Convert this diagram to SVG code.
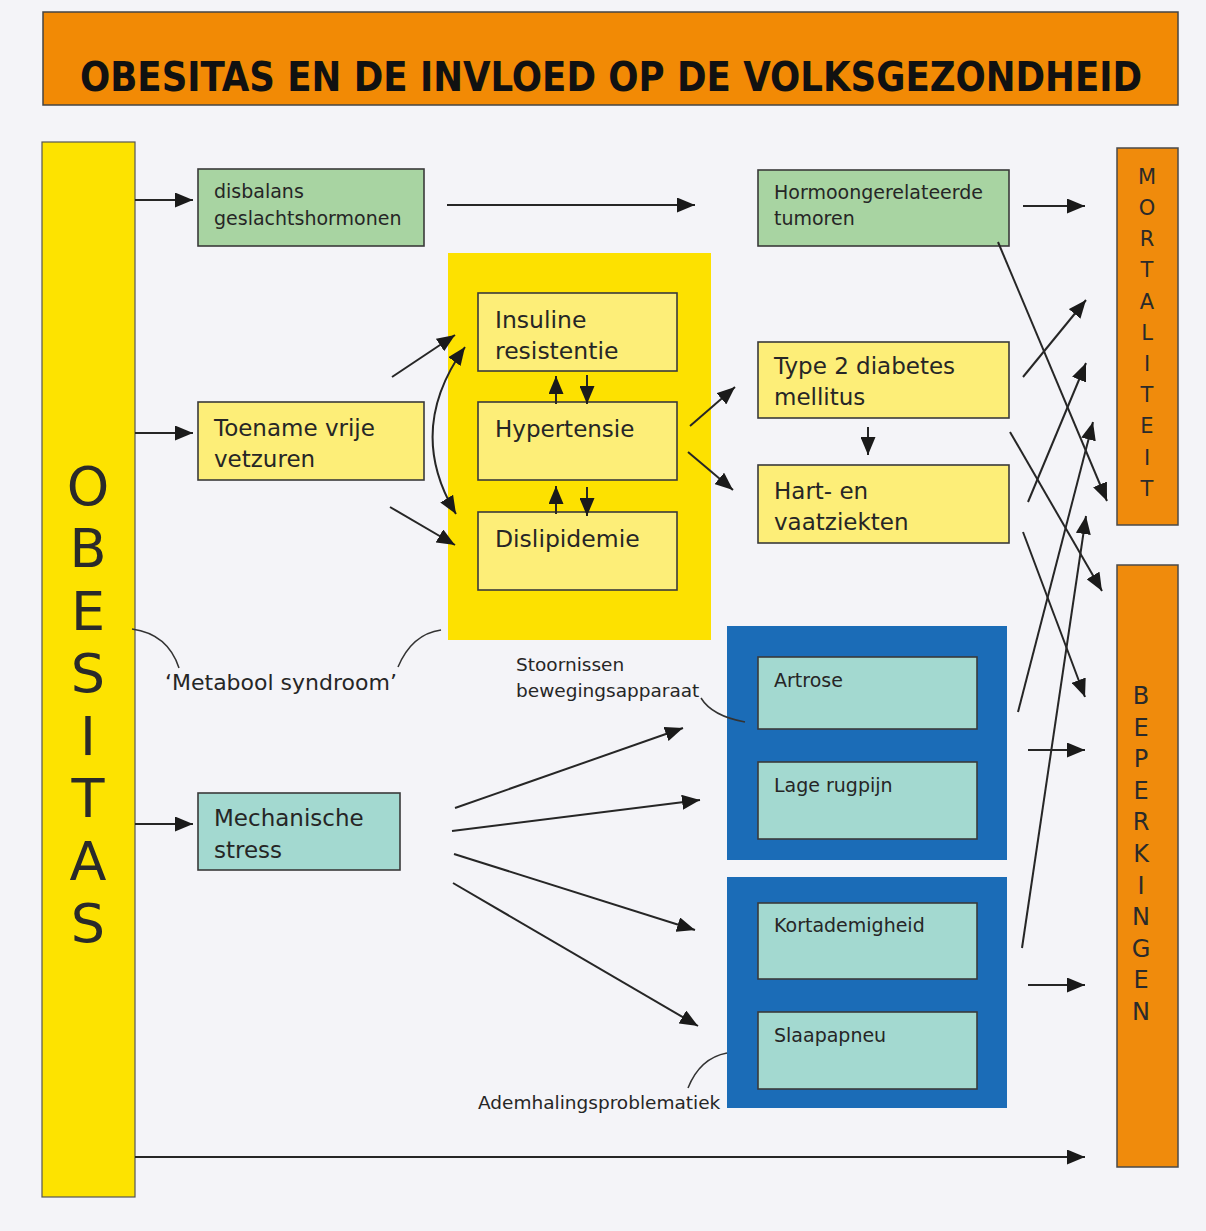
<svg xmlns="http://www.w3.org/2000/svg" width="1206" height="1231" viewBox="0 0 1206 1231">
<defs>
<marker id="ah" viewBox="0 0 18 15" refX="18" refY="7.5" markerWidth="18" markerHeight="15" markerUnits="userSpaceOnUse" orient="auto-start-reverse">
<path d="M0,0 L18,7.5 L0,15 z" fill="#1a1a1a"/>
</marker>
</defs>
<style>
.t{font-family:"DejaVu Sans","Liberation Sans",sans-serif;fill:#262626}
.s19{font-size:19px}
.s23{font-size:23px}
.s18{font-size:18.5px}
.box{stroke:#3a3a3a;stroke-width:1.6}
.green{fill:#A8D4A2}
.ly{fill:#FDEE78}
.teal{fill:#A3D9D0}
.blue{fill:#1B6CB7}
.org{fill:#F08B0C;stroke:#4a4a4a;stroke-width:1.5}
.c{stroke:#262626;stroke-width:2;fill:none}
.ca{stroke:#262626;stroke-width:2;fill:none;marker-end:url(#ah)}
.thin{stroke:#333;stroke-width:1.5;fill:none}
.v{font-family:"DejaVu Sans","Liberation Sans",sans-serif;fill:#2a2a2a;text-anchor:middle}
</style>
<rect x="0" y="0" width="1206" height="1231" fill="#F4F4F8"/>

<g id="title">
<rect x="43" y="12" width="1135" height="93" fill="#F28A05" stroke="#444" stroke-width="1.5"/>
<text x="80" y="91" textLength="1062" lengthAdjust="spacingAndGlyphs" style="font-family:'DejaVu Sans Condensed','Liberation Sans Narrow','DejaVu Sans',sans-serif;font-weight:bold;font-size:40px;fill:#111">OBESITAS EN DE INVLOED OP DE VOLKSGEZONDHEID</text>
</g>

<g id="obesitas">
<rect x="42" y="142" width="93" height="1055" fill="#FDE300" stroke="#555" stroke-width="1.2"/>
<text class="v" style="font-size:54px">
<tspan x="88" y="505">O</tspan><tspan x="88" y="567">B</tspan><tspan x="88" y="630">E</tspan><tspan x="88" y="692">S</tspan><tspan x="88" y="755">I</tspan><tspan x="88" y="817">T</tspan><tspan x="88" y="880">A</tspan><tspan x="88" y="942">S</tspan>
</text>
</g>

<g id="mortaliteit">
<rect x="1117" y="148" width="61" height="377" class="org"/>
<text class="v" style="font-size:21px">
<tspan x="1147" y="184">M</tspan><tspan x="1147" y="215">O</tspan><tspan x="1147" y="246">R</tspan><tspan x="1147" y="277">T</tspan><tspan x="1147" y="309">A</tspan><tspan x="1147" y="340">L</tspan><tspan x="1147" y="371">I</tspan><tspan x="1147" y="402">T</tspan><tspan x="1147" y="433">E</tspan><tspan x="1147" y="465">I</tspan><tspan x="1147" y="496">T</tspan>
</text>
</g>

<g id="beperkingen">
<rect x="1117" y="565" width="61" height="602" class="org"/>
<text class="v" style="font-size:24px">
<tspan x="1141" y="704">B</tspan><tspan x="1141" y="736">E</tspan><tspan x="1141" y="767">P</tspan><tspan x="1141" y="799">E</tspan><tspan x="1141" y="830">R</tspan><tspan x="1141" y="862">K</tspan><tspan x="1141" y="894">I</tspan><tspan x="1141" y="925">N</tspan><tspan x="1141" y="957">G</tspan><tspan x="1141" y="988">E</tspan><tspan x="1141" y="1020">N</tspan>
</text>
</g>

<g id="disbalans">
<rect x="198" y="169" width="226" height="77" class="box green"/>
<text class="t s19"><tspan x="214" y="198">disbalans</tspan><tspan x="214" y="225">geslachtshormonen</tspan></text>
</g>

<g id="hormoon">
<rect x="758" y="170" width="251" height="76" class="box green"/>
<text class="t s19"><tspan x="774" y="199">Hormoongerelateerde</tspan><tspan x="774" y="225">tumoren</tspan></text>
</g>

<g id="toename">
<rect x="198" y="402" width="226" height="78" class="box ly"/>
<text class="t s23"><tspan x="214" y="436">Toename vrije</tspan><tspan x="214" y="467">vetzuren</tspan></text>
</g>

<g id="metabool-area">
<rect x="448" y="253" width="263" height="387" fill="#FDE100"/>
</g>

<g id="insuline">
<rect x="478" y="293" width="199" height="78" class="box ly"/>
<text class="t" style="font-size:23.5px"><tspan x="495" y="328">Insuline</tspan><tspan x="495" y="359">resistentie</tspan></text>
</g>

<g id="hypertensie">
<rect x="478" y="402" width="199" height="78" class="box ly"/>
<text class="t" style="font-size:23px" x="495" y="437">Hypertensie</text>
</g>

<g id="dislipidemie">
<rect x="478" y="512" width="199" height="78" class="box ly"/>
<text class="t" style="font-size:23.5px" x="495" y="547">Dislipidemie</text>
</g>

<g id="type2">
<rect x="758" y="342" width="251" height="76" class="box ly"/>
<text class="t s23"><tspan x="774" y="374">Type 2 diabetes</tspan><tspan x="774" y="405">mellitus</tspan></text>
</g>

<g id="hart">
<rect x="758" y="465" width="251" height="78" class="box ly"/>
<text class="t s23"><tspan x="774" y="499">Hart- en</tspan><tspan x="774" y="530">vaatziekten</tspan></text>
</g>

<g id="mechanische">
<rect x="198" y="793" width="202" height="77" class="box teal"/>
<text class="t s23"><tspan x="214" y="826">Mechanische</tspan><tspan x="214" y="858">stress</tspan></text>
</g>

<g id="beweging-area">
<rect x="727" y="626" width="280" height="234" class="blue"/>
</g>
<g id="adem-area">
<rect x="727" y="877" width="280" height="231" class="blue"/>
</g>

<g id="artrose">
<rect x="758" y="657" width="219" height="72" class="box teal"/>
<text class="t s19" x="774" y="687">Artrose</text>
</g>
<g id="rugpijn">
<rect x="758" y="762" width="219" height="77" class="box teal"/>
<text class="t s19" x="774" y="792">Lage rugpijn</text>
</g>
<g id="kortademigheid">
<rect x="758" y="903" width="219" height="76" class="box teal"/>
<text class="t s19" x="774" y="932">Kortademigheid</text>
</g>
<g id="slaapapneu">
<rect x="758" y="1012" width="219" height="77" class="box teal"/>
<text class="t s19" x="774" y="1042">Slaapapneu</text>
</g>

<g id="labels">
<text class="t" style="font-size:22px" x="165" y="690">‘Metabool syndroom’</text>
<text class="t s18"><tspan x="516" y="671">Stoornissen</tspan><tspan x="516" y="697">bewegingsapparaat</tspan></text>
<text class="t s18" x="478" y="1109">Ademhalingsproblematiek</text>
</g>

<g id="connectors">
<line x1="135" y1="200" x2="193" y2="200" class="ca"/>
<line x1="447" y1="205" x2="695" y2="205" class="ca"/>
<line x1="135" y1="433" x2="193" y2="433" class="ca"/>
<line x1="135" y1="824" x2="193" y2="824" class="ca"/>
<line x1="392" y1="377" x2="455" y2="335" class="ca"/>
<line x1="390" y1="507" x2="455" y2="545" class="ca"/>
<path d="M465,347 Q405,430 456,514" class="c" marker-start="url(#ah)" marker-end="url(#ah)"/>
<line x1="556" y1="404" x2="556" y2="376" class="ca"/>
<line x1="587" y1="375" x2="587" y2="404" class="ca"/>
<line x1="556" y1="514" x2="556" y2="486" class="ca"/>
<line x1="587" y1="487" x2="587" y2="516" class="ca"/>
<line x1="690" y1="426" x2="735" y2="387" class="ca"/>
<line x1="688" y1="452" x2="733" y2="490" class="ca"/>
<line x1="868" y1="427" x2="868" y2="455" class="ca"/>
<line x1="455" y1="808" x2="683" y2="728" class="ca"/>
<line x1="452" y1="831" x2="700" y2="800" class="ca"/>
<line x1="454" y1="854" x2="695" y2="930" class="ca"/>
<line x1="453" y1="883" x2="698" y2="1026" class="ca"/>
<line x1="135" y1="1157" x2="1085" y2="1157" class="ca"/>
<line x1="1023" y1="206" x2="1085" y2="206" class="ca"/>
<line x1="1028" y1="750" x2="1085" y2="750" class="ca"/>
<line x1="1028" y1="985" x2="1085" y2="985" class="ca"/>
<line x1="998" y1="242" x2="1107" y2="501" class="ca"/>
<line x1="1023" y1="377" x2="1086" y2="300" class="ca"/>
<line x1="1028" y1="502" x2="1086" y2="363" class="ca"/>
<line x1="1010" y1="432" x2="1102" y2="591" class="ca"/>
<line x1="1018" y1="712" x2="1093" y2="422" class="ca"/>
<line x1="1022" y1="948" x2="1086" y2="516" class="ca"/>
<line x1="1023" y1="532" x2="1085" y2="697" class="ca"/>
<path d="M132,629 Q168,634 179,668" class="thin"/>
<path d="M398,667 Q412,634 441,630" class="thin"/>
<path d="M701,698 Q712,716 745,722" class="thin"/>
<path d="M688,1088 Q700,1058 727,1053" class="thin"/>
</g>
</svg>
